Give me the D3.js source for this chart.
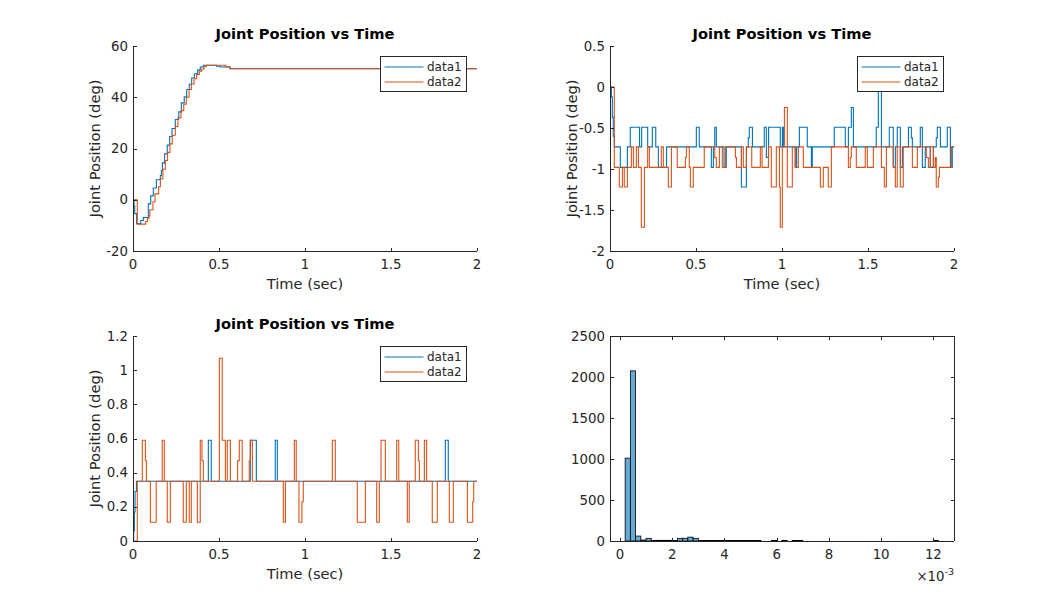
<!DOCTYPE html>
<html><head><meta charset="utf-8">
<script src="https://cdn.jsdelivr.net/npm/d3@7"></script>
<style>
body{margin:0;background:#fff}
svg{display:block;font-family:"DejaVu Sans",sans-serif}
</style>
</head><body>
<svg id="fig" width="1054" height="608"></svg>
<script>
// ---------- DATA ----------
const titleText = "Joint Position vs Time";
const xLabelText = "Time (sec)";
const yLabelText = "Joint Position (deg)";
const seriesNames = ["data1", "data2"];
const timeTicks = [0, 0.5, 1, 1.5, 2];

// Panel 1 (top-left): [time, position]
const p1Data1 = [[0,0],[0.006,-2.5],[0.010,-5.4],[0.021,-9.3],[0.045,-8.1],[0.060,-6.9],[0.089,-1.6],[0.103,1.5],[0.118,4.6],[0.136,7.8],[0.159,9.4],[0.165,11.4],[0.171,14.4],[0.184,17.9],[0.199,21.3],[0.213,24.7],[0.227,27.8],[0.246,31.3],[0.266,34.3],[0.281,37.8],[0.298,40.2],[0.312,43.0],[0.327,45.1],[0.341,47.5],[0.357,49.2],[0.376,50.7],[0.391,51.8],[0.409,52.5],[0.486,52.1],[0.506,51.8],[0.564,51.1],[2,51.1]];
const p1Data2 = [[0,0],[0.025,-9.5],[0.074,-8.5],[0.084,-7.4],[0.093,-6.3],[0.098,-3.9],[0.116,-0.8],[0.128,2.3],[0.149,5.1],[0.159,8.2],[0.174,11.9],[0.188,15.3],[0.201,18.5],[0.215,21.8],[0.228,25.2],[0.246,28.6],[0.261,32.0],[0.279,34.8],[0.295,37.3],[0.310,40.0],[0.326,43.0],[0.339,45.2],[0.355,47.2],[0.370,48.9],[0.386,50.2],[0.400,51.0],[0.413,51.9],[0.426,52.5],[0.539,51.9],[0.564,51.1],[2,51.1]];
const p1YTicks = [-20, 0, 20, 40, 60];

// Panel 2 (top-right)
const p2Data1 = [[0,0],[0.008,-0.12],[0.0135,-0.37],[0.019,-0.6],[0.025,-0.73],[0.060,-0.98],[0.101,-0.73],[0.118,-0.49],[0.172,-0.73],[0.184,-0.49],[0.219,-0.73],[0.246,-0.49],[0.266,-0.73],[0.281,-0.98],[0.329,-0.73],[0.502,-0.49],[0.519,-0.73],[0.589,-0.98],[0.601,-0.73],[0.609,-0.49],[0.618,-0.73],[0.663,-0.98],[0.676,-0.73],[0.764,-1.22],[0.793,-0.73],[0.804,-0.62],[0.810,-0.49],[0.828,-0.73],[0.897,-0.49],[0.909,-0.86],[0.922,-0.49],[0.990,-0.73],[1.002,-0.49],[1.008,-0.73],[1.077,-0.98],[1.085,-0.73],[1.101,-0.49],[1.147,-0.73],[1.171,-0.98],[1.176,-0.73],[1.304,-0.49],[1.368,-0.73],[1.386,-0.49],[1.403,-0.25],[1.415,-0.73],[1.548,-0.49],[1.560,0],[1.578,-0.73],[1.624,-0.49],[1.647,-0.98],[1.659,-0.73],[1.670,-0.49],[1.688,-0.98],[1.700,-0.73],[1.735,-0.49],[1.752,-0.62],[1.758,-0.73],[1.804,-0.49],[1.816,-0.98],[1.833,-0.73],[1.862,-0.98],[1.880,-0.73],[1.897,-0.62],[1.903,-0.49],[1.921,-0.73],[1.961,-0.49],[1.979,-0.98],[1.990,-0.73],[2,-0.73]];
const p2Data2 = [[0,0],[0.025,-0.98],[0.054,-1.22],[0.072,-0.98],[0.083,-1.22],[0.101,-0.98],[0.124,-0.73],[0.136,-0.98],[0.153,-0.73],[0.165,-0.98],[0.182,-1.71],[0.200,-0.98],[0.219,-0.73],[0.229,-0.98],[0.298,-0.73],[0.310,-0.98],[0.339,-1.22],[0.357,-0.73],[0.391,-0.98],[0.438,-0.86],[0.444,-0.73],[0.461,-0.98],[0.467,-1.22],[0.484,-0.98],[0.548,-0.73],[0.609,-0.86],[0.618,-0.98],[0.636,-0.73],[0.653,-0.98],[0.671,-0.73],[0.729,-0.86],[0.735,-0.98],[0.764,-0.73],[0.775,-0.98],[0.793,-0.73],[0.824,-0.98],[0.874,-0.73],[0.884,-0.98],[0.921,-0.73],[0.938,-1.22],[0.967,-0.73],[0.985,-1.22],[0.990,-1.71],[1.002,-0.73],[1.014,-0.25],[1.031,-1.22],[1.060,-0.73],[1.077,-0.98],[1.095,-0.73],[1.124,-0.98],[1.223,-1.22],[1.240,-0.98],[1.269,-1.22],[1.287,-0.73],[1.386,-0.98],[1.397,-0.86],[1.403,-0.73],[1.432,-0.98],[1.484,-0.73],[1.496,-0.98],[1.531,-0.73],[1.578,-0.98],[1.595,-1.22],[1.607,-0.73],[1.647,-0.98],[1.659,-1.22],[1.670,-0.73],[1.688,-1.22],[1.705,-0.73],[1.758,-0.98],[1.787,-0.73],[1.839,-0.86],[1.851,-0.98],[1.862,-0.73],[1.880,-0.98],[1.891,-0.86],[1.897,-1.22],[1.909,-1.10],[1.915,-0.98],[1.985,-0.73],[2,-0.73]];
const p2YTicks = [-2, -1.5, -1, -0.5, 0, 0.5];

// Panel 3 (bottom-left)
const p3Data1 = [[0,0],[0.004,0.06],[0.008,0.17],[0.012,0.29],[0.020,0.35],[0.438,0.59],[0.455,0.35],[0.682,0.59],[0.717,0.35],[0.827,0.59],[0.839,0.35],[1.816,0.59],[1.833,0.35],[2,0.35]];
const p3Data2 = [[0,0],[0.025,0.35],[0.054,0.59],[0.072,0.47],[0.078,0.35],[0.101,0.11],[0.135,0.35],[0.170,0.59],[0.182,0.35],[0.199,0.11],[0.217,0.35],[0.292,0.11],[0.310,0.35],[0.327,0.11],[0.339,0.35],[0.374,0.11],[0.391,0.59],[0.401,0.47],[0.409,0.35],[0.502,1.07],[0.519,0.59],[0.537,0.35],[0.548,0.59],[0.566,0.35],[0.608,0.47],[0.618,0.59],[0.635,0.35],[0.676,0.47],[0.682,0.59],[0.694,0.35],[0.874,0.11],[0.886,0.35],[0.938,0.59],[0.949,0.35],[0.965,0.11],[0.982,0.23],[0.990,0.35],[1.159,0.59],[1.176,0.35],[1.304,0.11],[1.351,0.35],[1.417,0.11],[1.432,0.35],[1.442,0.59],[1.467,0.35],[1.533,0.59],[1.545,0.35],[1.595,0.11],[1.606,0.35],[1.641,0.59],[1.659,0.47],[1.665,0.35],[1.694,0.59],[1.707,0.35],[1.740,0.11],[1.769,0.35],[1.839,0.11],[1.862,0.35],[1.944,0.11],[1.975,0.23],[1.981,0.35],[2,0.35]];
const p3YTicks = [0, 0.2, 0.4, 0.6, 0.8, 1, 1.2];

// Panel 4 (histogram): [bin start (x 1e-3), count], bin width 0.2e-3
const histBinWidth = 0.2;
const histBins = [[0.2,1010],[0.4,2075],[0.6,60],[0.8,12],[1.0,33],[1.2,8],[1.4,8],[1.6,8],[1.8,8],[2.0,6],[2.2,33],[2.4,33],[2.6,47],[2.8,33],[3.0,6],[3.2,6],[3.4,6],[3.6,6],[3.8,6],[4.0,6],[4.2,6],[4.4,6],[4.6,6],[4.8,6],[5.0,6],[5.2,6],[5.8,8],[6.2,8],[6.6,6],[6.8,6],[12.0,6]];
const histXTicks = [0, 2, 4, 6, 8, 10, 12];
const histYTicks = [0, 500, 1000, 1500, 2000, 2500];
const histExponent = "-3";

// ---------- STYLE ----------
const C1 = "#0072BD", C2 = "#D95319", AX = "#262626";
const histFill = "rgb(102,170,215)";
const tickFont = 13.33, labelFont = 14.67, legendFont = 12;

const svg = d3.select("#fig");

function drawAxes(g, box, x, y, xTicks, yTicks, opts) {
  const {left, right, top, bottom} = box;
  const tl = 3.5;
  const a = g.append("g").attr("shape-rendering", "crispEdges").attr("stroke", AX).attr("stroke-width", 1).attr("fill", "none");
  a.append("line").attr("x1", left).attr("x2", right).attr("y1", bottom).attr("y2", bottom);
  a.append("line").attr("x1", left).attr("x2", left).attr("y1", top).attr("y2", bottom);
  if (opts.box) {
    a.append("line").attr("x1", left).attr("x2", right).attr("y1", top).attr("y2", top);
    a.append("line").attr("x1", right).attr("x2", right).attr("y1", top).attr("y2", bottom);
  }
  xTicks.forEach(v => {
    const px = Math.round(x(v)) + 0.5;
    a.append("line").attr("x1", px).attr("x2", px).attr("y1", bottom).attr("y2", bottom - tl);
    if (opts.box) a.append("line").attr("x1", px).attr("x2", px).attr("y1", top).attr("y2", top + tl);
    g.append("text").attr("x", x(v)).attr("y", bottom + 13.5).attr("text-anchor", "middle")
      .attr("dominant-baseline", "central").attr("font-size", tickFont).attr("fill", AX).text(String(v));
  });
  yTicks.forEach(v => {
    const py = Math.round(y(v)) + 0.5;
    a.append("line").attr("x1", left).attr("x2", left + tl).attr("y1", py).attr("y2", py);
    if (opts.box) a.append("line").attr("x1", right).attr("x2", right - tl).attr("y1", py).attr("y2", py);
    g.append("text").attr("x", left - 5).attr("y", y(v)).attr("text-anchor", "end")
      .attr("dominant-baseline", "central").attr("font-size", tickFont).attr("fill", AX).text(String(v));
  });
}

function drawLinePanel(box, yDomain, yTicks, d1, d2, ylabOff, id) {
  const x = d3.scaleLinear().domain([0, 2]).range([box.left, box.right]);
  const y = d3.scaleLinear().domain(yDomain).range([box.bottom, box.top]);
  const g = svg.append("g");
  g.append("clipPath").attr("id", id).append("rect")
    .attr("x", box.left).attr("y", box.top - 1).attr("width", box.right - box.left + 1).attr("height", box.bottom - box.top + 2);
  const line = d3.line().x(d => x(d[0])).y(d => y(d[1])).curve(d3.curveStepAfter);
  const pg = g.append("g").attr("clip-path", `url(#${id})`);
  [[d1, C1], [d2, C2]].forEach(([d, c]) => {
    pg.append("path").datum(d).attr("d", line).attr("fill", "none").attr("stroke", c).attr("stroke-width", 1.1);
  });
  drawAxes(g, box, x, y, timeTicks, yTicks, {box: false});
  const cx = (box.left + box.right) / 2;
  g.append("text").attr("x", cx).attr("y", box.top - 12.5).attr("text-anchor", "middle").attr("dominant-baseline", "central")
    .attr("font-size", labelFont).attr("font-weight", "bold").attr("fill", "#000").text(titleText);
  g.append("text").attr("x", cx).attr("y", box.bottom + 32).attr("text-anchor", "middle").attr("dominant-baseline", "central")
    .attr("font-size", labelFont).attr("fill", AX).text(xLabelText);
  const ly = (box.top + box.bottom) / 2, lx = box.left - ylabOff;
  g.append("text").attr("transform", `translate(${lx},${ly}) rotate(-90)`).attr("text-anchor", "middle").attr("dominant-baseline", "central")
    .attr("font-size", labelFont).attr("fill", AX).text(yLabelText);
  // legend
  const lw = 86, lh = 35;
  const lgx = box.right - 10.5 - lw, lgy = box.top + 10.5;
  const lg = g.append("g");
  lg.append("rect").attr("x", lgx).attr("y", lgy).attr("width", lw).attr("height", lh)
    .attr("fill", "#fff").attr("stroke", AX).attr("stroke-width", 1).attr("shape-rendering", "crispEdges");
  [C1, C2].forEach((c, i) => {
    const ry = lgy + 10.5 + i * 15;
    lg.append("line").attr("x1", lgx + 4).attr("x2", lgx + 43).attr("y1", ry).attr("y2", ry)
      .attr("stroke", c).attr("stroke-width", 1.1);
    lg.append("text").attr("x", lgx + 46.5).attr("y", ry).attr("dominant-baseline", "central")
      .attr("font-size", legendFont).attr("fill", AX).text(seriesNames[i]);
  });
}

drawLinePanel({left: 133, right: 477, top: 46, bottom: 251}, [-20, 60], p1YTicks, p1Data1, p1Data2, 38.5, "c1");
drawLinePanel({left: 610, right: 954, top: 46, bottom: 251}, [-2, 0.5], p2YTicks, p2Data1, p2Data2, 39, "c2");
drawLinePanel({left: 133, right: 477, top: 336, bottom: 541}, [0, 1.2], p3YTicks, p3Data1, p3Data2, 38.5, "c3");

// histogram
(function () {
  const box = {left: 610, right: 954, top: 336, bottom: 541};
  const x = d3.scaleLinear().domain([-0.38, 12.79]).range([box.left, box.right]);
  const y = d3.scaleLinear().domain([0, 2500]).range([box.bottom, box.top]);
  const g = svg.append("g");
  g.append("g").selectAll("rect").data(histBins).join("rect")
    .attr("x", d => x(d[0])).attr("width", d => x(d[0] + histBinWidth) - x(d[0]))
    .attr("y", d => y(d[1])).attr("height", d => y(0) - y(d[1]))
    .attr("fill", histFill).attr("stroke", "#000").attr("stroke-width", 0.8);
  drawAxes(g, box, x, y, histXTicks, histYTicks, {box: true});
  const ex = g.append("text").attr("x", box.right).attr("y", box.bottom + 39.5).attr("text-anchor", "end")
    .attr("font-size", tickFont).attr("fill", AX);
  ex.append("tspan").text("×10");
  ex.append("tspan").attr("dy", -5.5).attr("font-size", 9.5).text(histExponent);
})();
</script>
</body></html>
